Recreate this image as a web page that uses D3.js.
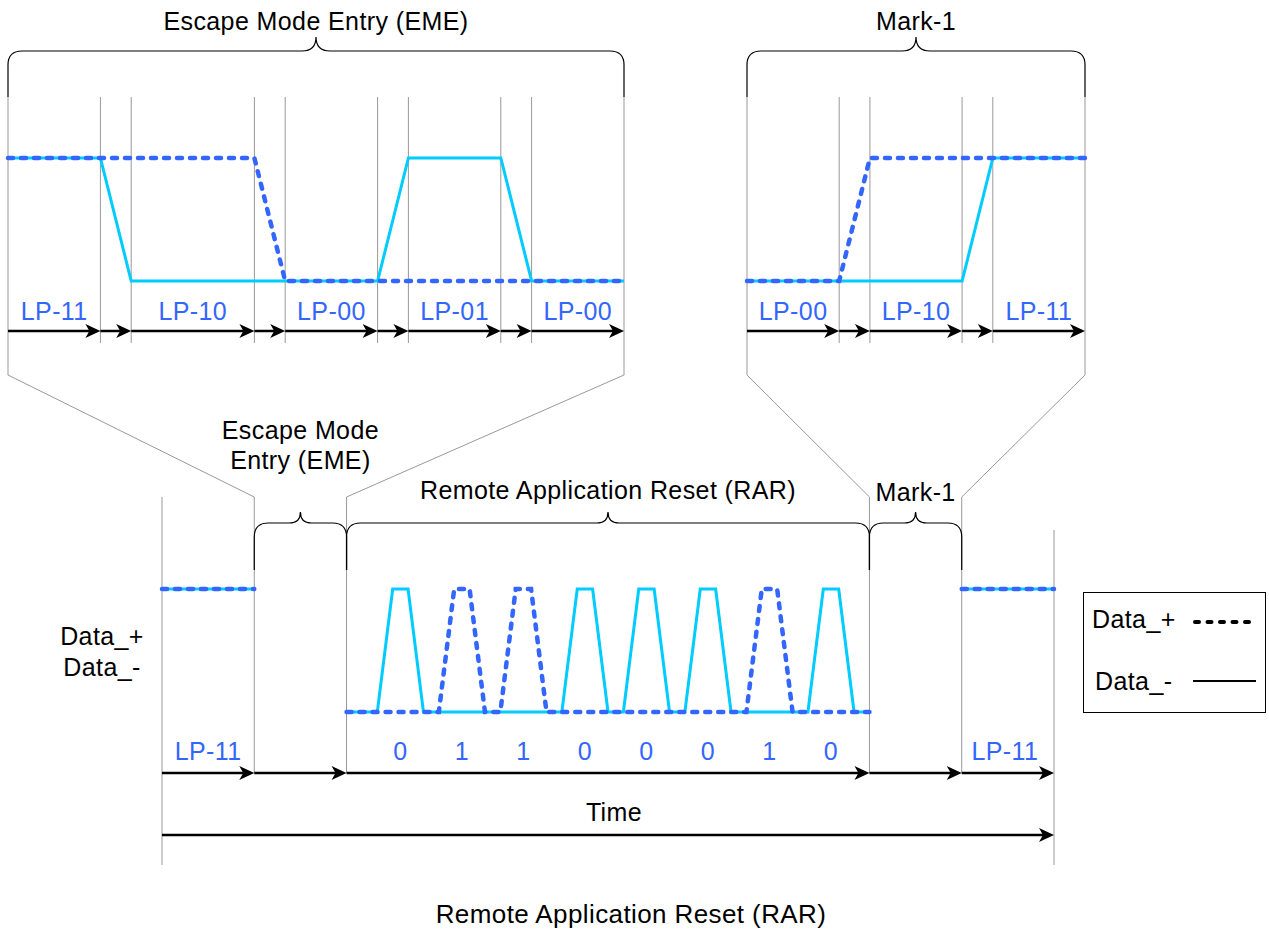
<!DOCTYPE html>
<html>
<head>
<meta charset="utf-8">
<script src="https://cdnjs.cloudflare.com/ajax/libs/d3/7.8.5/d3.min.js"></script>
<style>
  body { margin: 0; background: #fff; }
  text { font-family: "Liberation Sans", Arial, Helvetica, sans-serif; font-size: 25px; letter-spacing: 0.4px; }
</style>
</head>
<body>
<script>
'use strict';

// time is counted in "slots" (one slot = one LP rise / fall time)

// Escape Mode Entry detail (top left)
const emeEdges = [0, 3, 4, 8, 9, 12, 13, 16, 17, 20];
const emeStates = ['LP-11', 'LP-10', 'LP-00', 'LP-01', 'LP-00'];
const emePlus = [[0, 1], [8, 1], [9, 0], [20, 0]];
const emeMinus = [[0, 1], [3, 1], [4, 0], [12, 0], [13, 1], [16, 1], [17, 0], [20, 0]];

// Mark-1 detail (top right)
const markEdges = [0, 3, 4, 7, 8, 11];
const markStates = ['LP-00', 'LP-10', 'LP-11'];
const markPlus = [[0, 0], [3, 0], [4, 1], [11, 1]];
const markMinus = [[0, 0], [7, 0], [8, 1], [11, 1]];

// whole RAR sequence (bottom)
const rarEdges = [0, 3, 6, 23, 26, 29];
const rarBits = ['0', '1', '1', '0', '0', '0', '1', '0'];
const rarBitStarts = [7, 9, 11, 13, 15, 17, 19, 21];
const rarPlus = [[6, 0], [9, 0], [9.5, 1], [10, 1], [10.5, 0], [11, 0], [11.5, 1], [12, 1], [12.5, 0],
  [19, 0], [19.5, 1], [20, 1], [20.5, 0], [23, 0]];
const rarMinus = [[6, 0], [7, 0], [7.5, 1], [8, 1], [8.5, 0], [13, 0], [13.5, 1], [14, 1], [14.5, 0],
  [15, 0], [15.5, 1], [16, 1], [16.5, 0], [17, 0], [17.5, 1], [18, 1], [18.5, 0],
  [21, 0], [21.5, 1], [22, 1], [22.5, 0], [23, 0]];
const lpStart = [[0, 1], [3, 1]];
const lpEnd = [[26, 1], [29, 1]];
const rarBraces = [[3, 6], [6, 23], [23, 26]];
const braceTitles = ['Escape Mode Entry (EME)', 'Mark-1', 'Remote Application Reset (RAR)'];

const BLUE = '#3366ff';
const CYAN = '#00ccff';
const GRAY = '#999999';

let svg = '';

window.onload = function() {
  svg = d3.select('body').append('svg')
    .attr('width', 1269)
    .attr('height', 931);

  // scales for the three timelines
  let xEme = d3.scaleLinear().domain([0, 20]).range([8, 624]);
  let xMark = d3.scaleLinear().domain([0, 11]).range([747, 1085]);
  let xRar = d3.scaleLinear().domain([0, 29]).range([162, 1054]);
  let yTop = d3.scaleLinear().domain([0, 1]).range([281, 158]);
  let yBot = d3.scaleLinear().domain([0, 1]).range([712, 589]);

  // zoom lines from detail panels down to the overview
  zoomLines(xEme, 0, 20, xRar, 3, 6);
  zoomLines(xMark, 0, 11, xRar, 23, 26);

  // top detail panels
  drawDetail(xEme, yTop, emeEdges, emeStates, emePlus, emeMinus, braceTitles[0]);
  drawDetail(xMark, yTop, markEdges, markStates, markPlus, markMinus, braceTitles[1]);

  // overview
  drawOverview(xRar, yBot);
  drawLegend();

  // caption
  label(631, 923, braceTitles[2], '#000').style('font-size', '26px');
};

function zoomLines(xTop, t0, t1, xBot, b0, b1) {
  svg.append('path')
    .attr('d', 'M' + xTop(t0) + ',97 L' + xTop(t0) + ',375 L' + xBot(b0) + ',497')
    .attr('fill', 'none').attr('stroke', GRAY).attr('stroke-width', 1);
  svg.append('path')
    .attr('d', 'M' + xTop(t1) + ',97 L' + xTop(t1) + ',375 L' + xBot(b1) + ',497')
    .attr('fill', 'none').attr('stroke', GRAY).attr('stroke-width', 1);
}

function drawDetail(x, y, edges, states, plus, minus, title) {
  // inner slot boundaries
  edges.slice(1, -1).forEach((e) => vline(x(e), 97, 343));

  brace(x(edges[0]), x(edges[edges.length - 1]), 51, 97, 14, 14);
  label((x(edges[0]) + x(edges[edges.length - 1])) / 2, 30, title, '#000');

  wave(x, y, minus, plus);

  // arrows between every boundary, state names over the long slots
  for (let i = 0; i < edges.length - 1; i++) arrow(x(edges[i]), x(edges[i + 1]), 331);
  states.forEach((s, i) => label((x(edges[2 * i]) + x(edges[2 * i + 1])) / 2, 320, s, BLUE));
}

function drawOverview(x, y) {
  vline(x(rarEdges[0]), 497, 865);
  rarEdges.slice(1, -1).forEach((e) => vline(x(e), 497, 773));
  vline(x(rarEdges[rarEdges.length - 1]), 530, 865);

  rarBraces.forEach((b) => brace(x(b[0]), x(b[1]), 523, 570, 14, 11));
  label(x(4.5), 439, 'Escape Mode', '#000');
  label(x(4.5), 469, 'Entry (EME)', '#000');
  label(x(14.5), 499, braceTitles[2], '#000');
  label(x(24.5), 501, braceTitles[1], '#000');

  wave(x, y, lpStart, lpStart);
  wave(x, y, lpEnd, lpEnd);
  wave(x, y, rarMinus, rarPlus);

  for (let i = 0; i < rarEdges.length - 1; i++) arrow(x(rarEdges[i]), x(rarEdges[i + 1]), 773);
  label((x(0) + x(3)) / 2, 760, 'LP-11', BLUE);
  label((x(26) + x(29)) / 2 - 3, 760, 'LP-11', BLUE);
  rarBits.forEach((b, i) => label(x(rarBitStarts[i] + 0.75), 760, b, BLUE));

  // time axis
  arrow(x(0), x(29), 835);
  label(614, 821, 'Time', '#000');

  label(102, 645, 'Data_+', '#000');
  label(102, 676, 'Data_-', '#000');
}

function drawLegend() {
  svg.append('rect')
    .attr('x', 1083.5).attr('y', 592.5)
    .attr('width', 182).attr('height', 120)
    .attr('fill', '#fff').attr('stroke', '#000').attr('stroke-width', 1);
  svg.append('text').attr('x', 1092).attr('y', 628).text('Data_+');
  svg.append('text').attr('x', 1095).attr('y', 690).text('Data_-');
  svg.append('line')
    .attr('x1', 1195).attr('x2', 1253).attr('y1', 622).attr('y2', 622)
    .attr('stroke', '#000').attr('stroke-width', 4)
    .attr('stroke-linecap', 'round').attr('stroke-dasharray', '4,8.5');
  svg.append('line')
    .attr('x1', 1193).attr('x2', 1256).attr('y1', 681).attr('y2', 681)
    .attr('stroke', '#000').attr('stroke-width', 2);
}

// solid Data_- under dashed Data_+
function wave(x, y, minus, plus) {
  let line = d3.line().x((d) => x(d[0])).y((d) => y(d[1]));
  svg.append('path').datum(minus)
    .attr('d', line).attr('fill', 'none')
    .attr('stroke', CYAN).attr('stroke-width', 3);
  svg.append('path').datum(plus)
    .attr('d', line).attr('fill', 'none')
    .attr('stroke', BLUE).attr('stroke-width', 4.5)
    .attr('stroke-linecap', 'round').attr('stroke-dasharray', '5,8');
}

function vline(xv, y1, y2) {
  svg.append('line')
    .attr('x1', xv).attr('x2', xv).attr('y1', y1).attr('y2', y2)
    .attr('stroke', GRAY).attr('stroke-width', 1);
}

function arrow(x1, x2, yv) {
  svg.append('line')
    .attr('x1', x1).attr('x2', x2 - 10).attr('y1', yv).attr('y2', yv)
    .attr('stroke', '#000').attr('stroke-width', 2.5);
  svg.append('path')
    .attr('d', 'M' + x2 + ',' + yv + ' L' + (x2 - 15) + ',' + (yv - 7) + ' L' + (x2 - 11) + ',' + yv +
      ' L' + (x2 - 15) + ',' + (yv + 7) + ' Z')
    .attr('fill', '#000');
}

// curly bracket opening downward
function brace(x0, x1, yH, yEnd, r, h) {
  let mid = (x0 + x1) / 2;
  let d = 'M' + x0 + ',' + yEnd + ' L' + x0 + ',' + (yH + r) +
    ' Q' + x0 + ',' + yH + ' ' + (x0 + r) + ',' + yH +
    ' L' + (mid - h) + ',' + yH +
    ' Q' + mid + ',' + yH + ' ' + mid + ',' + (yH - h) +
    ' Q' + mid + ',' + yH + ' ' + (mid + h) + ',' + yH +
    ' L' + (x1 - r) + ',' + yH +
    ' Q' + x1 + ',' + yH + ' ' + x1 + ',' + (yH + r) +
    ' L' + x1 + ',' + yEnd;
  svg.append('path').attr('d', d)
    .attr('fill', 'none').attr('stroke', '#000').attr('stroke-width', 1.2);
}

function label(xv, yv, t, color) {
  return svg.append('text')
    .attr('x', xv).attr('y', yv)
    .attr('text-anchor', 'middle')
    .attr('fill', color)
    .text(t);
}
</script>
</body>
</html>
